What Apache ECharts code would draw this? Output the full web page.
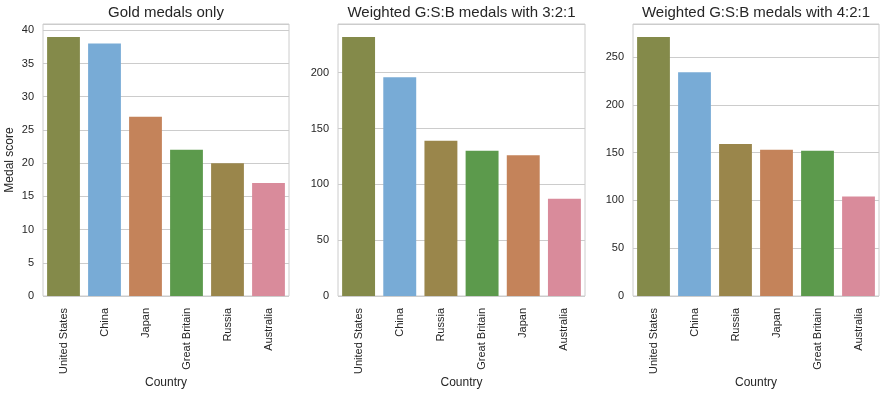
<!DOCTYPE html>
<html>
<head>
<meta charset="utf-8">
<script src="https://cdn.jsdelivr.net/npm/echarts@6/dist/echarts.min.js"></script>
<style>html,body{margin:0;padding:0;background:#fff}#c{width:887px;height:393px}</style>
</head>
<body>
<div id="c"></div>
<script>
var countries1 = ["United States","China","Japan","Great Britain","Russia","Australia"];
var gold = [39,38,27,22,20,17];
var countries2 = ["United States","China","Russia","Great Britain","Japan","Australia"];
var weighted321 = [232,196,139,130,126,87];
var countries3 = ["United States","China","Russia","Japan","Great Britain","Australia"];
var weighted421 = [271,234,159,153,152,104];
var titles = ["Gold medals only","Weighted G:S:B medals with 3:2:1","Weighted G:S:B medals with 4:2:1"];
var yMax = [40.95, 243.6, 284.55];
var yInterval = [5, 50, 50];

var countryColor = {
  "United States":"#848A4A","China":"#78ABD6","Japan":"#C4835A",
  "Great Britain":"#5C9A4C","Russia":"#9A864B","Australia":"#D98B9B"
};
var font = "'Liberation Sans', Arial, sans-serif";
var txt = "#262626";
var lefts = [43, 338, 633];
var widths = [246, 247, 246];
var cats = [countries1, countries2, countries3];
var vals = [gold, weighted321, weighted421];

var grids=[], xAxes=[], yAxes=[], series=[], tt=[];
for (var i=0;i<3;i++){
  grids.push({left:lefts[i], top:24, width:widths[i], height:272, show:true, borderColor:"#cccccc", borderWidth:1,
    containLabel:false, outerBoundsMode:"none"});
  xAxes.push({type:"category", gridIndex:i, data:cats[i], name:"Country", nameLocation:"middle", nameGap:81,
    nameMoveOverlap:false,
    nameTextStyle:{fontFamily:font,fontSize:12,color:txt},
    axisLine:{show:false}, axisTick:{show:false},
    axisLabel:{rotate:90, fontFamily:font, fontSize:11, color:txt, margin:12}});
  yAxes.push({type:"value", gridIndex:i, min:0, max:yMax[i], interval:yInterval[i],
    name: i===0 ? "Medal score" : "", nameLocation:"middle", nameGap:27,
    nameMoveOverlap:false,
    nameTextStyle:{fontFamily:font,fontSize:12,color:txt},
    axisLine:{show:false}, axisTick:{show:false},
    axisLabel:{fontFamily:font, fontSize:11, color:txt, margin:9, showMaxLabel:false},
    splitLine:{lineStyle:{color:"#cccccc", width:1}}});
  series.push({type:"bar", xAxisIndex:i, yAxisIndex:i, barCategoryGap:"20%",
    data: vals[i].map(function(v,j){return {value:v, itemStyle:{color:countryColor[cats[i][j]]}};})});
  tt.push({text:titles[i], left:lefts[i]+widths[i]/2, top:5, padding:0, textAlign:"center",
    textStyle:{fontFamily:font, fontSize:15, fontWeight:"normal", color:txt}});
}
var chart = echarts.init(document.getElementById("c"), null, {renderer:"canvas"});
chart.setOption({animation:false, backgroundColor:"#ffffff", title:tt, grid:grids, xAxis:xAxes, yAxis:yAxes, series:series});
</script>
</body>
</html>
